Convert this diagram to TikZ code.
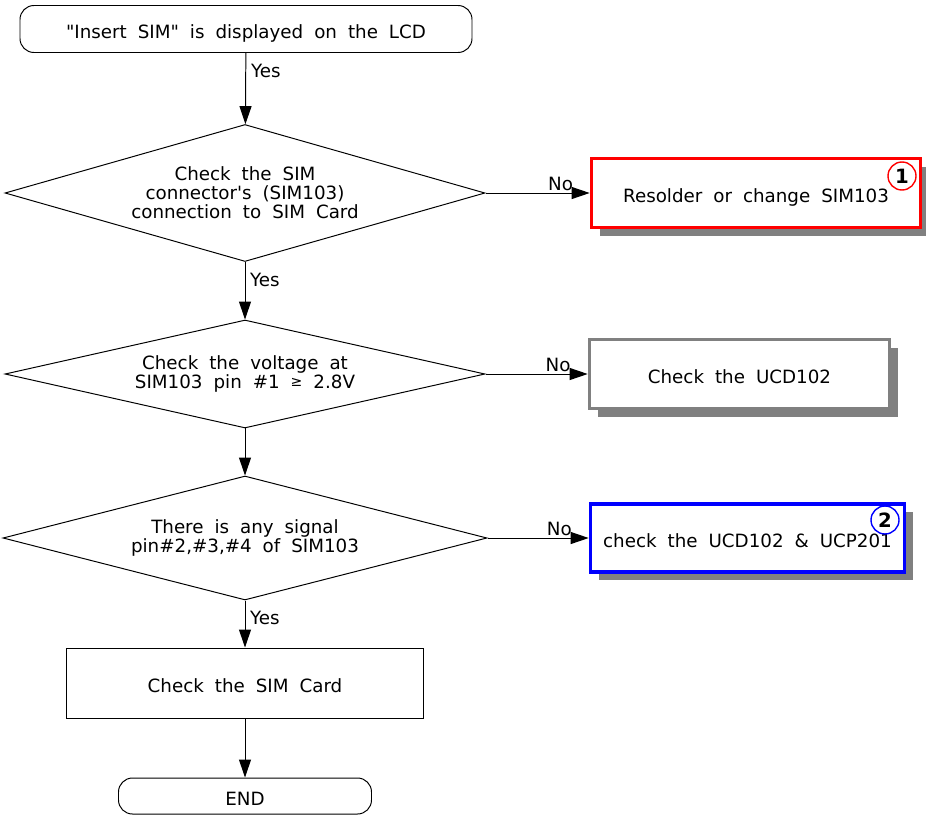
\documentclass[tikz,border=0pt]{standalone}
\usepackage{fontspec}
\setmainfont{DejaVu Sans}[Ligatures=TeXOff]
\usepackage{tikz}
\usetikzlibrary{arrows.meta, positioning, shapes.geometric, shadows}
\usepackage{xcolor}
\definecolor{FlowGray}{HTML}{808080}
\definecolor{FlowRed}{HTML}{FF0000}
\definecolor{FlowBlue}{HTML}{0000FF}
\newcommand{\flowfont}{\fontsize{13}{13.5}\selectfont\spaceskip=0.6em\relax}
\newcommand{\badgefont}{\fontsize{14}{14}\selectfont\bfseries}
\tikzset{
  flowline/.style={-{Triangle[length=0.45cm, width=0.3cm]}, line width=0.7pt},
  yeslabel/.style={anchor=north west, pos=0, yshift=-0.14cm},
  nolabel/.style={above, inner sep=1pt},
  oneline/.style={text height=14pt, text depth=0pt},
  terminal/.style={draw, oneline, rounded corners=0.35cm, line width=0.7pt},
  decision/.style={draw, diamond, aspect=4, inner sep=0pt, line width=0.7pt, align=center},
  process/.style={draw, oneline, line width=0.7pt},
  action/.style={fill=white, oneline, line width=2.6pt,
    drop shadow={shadow xshift=0.2cm, shadow yshift=-0.21cm, fill=FlowGray, opacity=1}},
  badge/.style={circle, draw, fill=white, line width=1pt, minimum size=0.7cm,
    inner sep=0pt, font=\badgefont},
}

\begin{document}
\begin{tikzpicture}[font=\flowfont]
\useasboundingbox (0,0) rectangle (23.15,-20.375);

% ── Main column ───────────────────────────────────────────────────────────────
\node[terminal, minimum width=11.3cm, minimum height=1.175cm]
  (start) at (6.15, -0.725) {"Insert SIM" is displayed on the LCD};

\node[decision, minimum width=12cm, minimum height=3.425cm]
  (conn) at (6.125, -4.825) {Check the SIM\\connector's (SIM103)\\connection to SIM Card};

\node[decision, minimum width=12cm, minimum height=2.7cm]
  (volt) at (6.125, -9.35)
  {Check the voltage at\\SIM103 pin \#1 \raisebox{0.25ex}{\fontsize{10}{10}\selectfont ≥} 2.8V};

\node[decision, minimum width=12.1cm, minimum height=3.1cm]
  (signal) at (6.125, -13.45) {There is any signal\\pin\#2,\#3,\#4 of SIM103};

\node[process, minimum width=8.925cm, minimum height=1.75cm]
  (card) at (6.125, -17.075) {Check the SIM Card};

\node[terminal, minimum width=6.325cm, minimum height=0.9cm]
  (end) at (6.125, -19.9) {END};

% ── Side actions ──────────────────────────────────────────────────────────────
\node[action, draw=FlowRed, minimum width=8.225cm, minimum height=1.725cm]
  (resolder) at (18.9, -4.825) {Resolder or change SIM103};
\node[badge, draw=FlowRed] (badgeA) at (22.55, -4.4) {\raisebox{-0.1ex}{1}};

\node[action, draw=FlowGray, minimum width=7.5cm, minimum height=1.725cm]
  (ucd) at (18.4875, -9.35) {Check the UCD102};

\node[action, draw=FlowBlue, minimum width=7.85cm, minimum height=1.7cm]
  (ucp) at (18.6875, -13.45) {check the UCD102 \& UCP201};
\node[badge, draw=FlowBlue, fill=none] (badgeB) at (22.125, -13.0) {\raisebox{-0.1ex}{2}};

% ── Arrows ────────────────────────────────────────────────────────────────────
\draw[flowline] (start) -- node[yeslabel] {Yes} (conn);
\draw[flowline] (conn) -- node[yeslabel] {Yes} (volt);
\draw[flowline] (volt) -- (signal);
\draw[flowline] (signal) -- node[yeslabel] {Yes} (card);
\draw[flowline] (card) -- (end);

\draw[flowline] (conn) -- node[nolabel, pos=0.72] {No} (resolder);
\draw[flowline] (volt) -- node[nolabel, pos=0.71] {No} (ucd);
\draw[flowline] (signal) -- node[nolabel, pos=0.71] {No} (ucp);

\end{tikzpicture}
\end{document}
